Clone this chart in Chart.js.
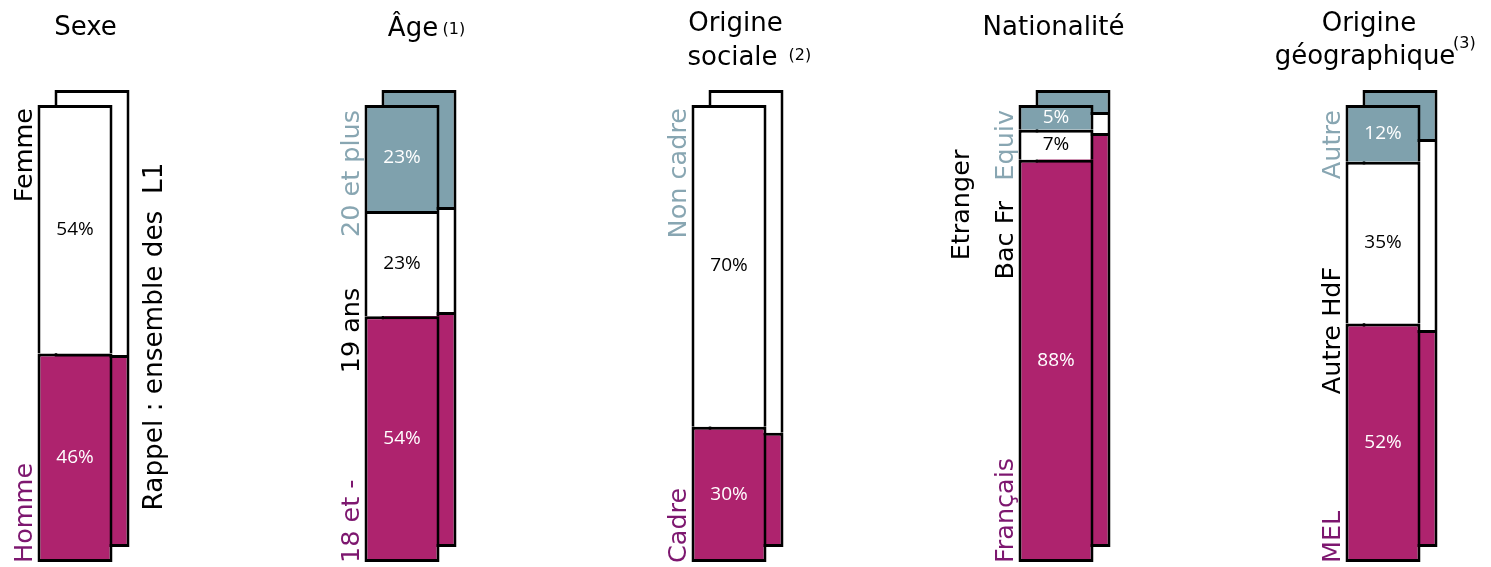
<!DOCTYPE html>
<html><head><meta charset="utf-8">
<script src="https://cdn.jsdelivr.net/npm/chart.js@4.4.0/dist/chart.umd.min.js"></script>
<style>
html,body{margin:0;padding:0;background:#fff;}
#wrap{position:relative;width:1491px;height:567px;overflow:hidden;background:#fff;}
canvas{position:absolute;left:0;top:0;}
</style></head><body>
<div id="wrap"><canvas id="back" width="1491" height="567"></canvas><canvas id="front" width="1491" height="567"></canvas></div>
<script>
// ---- data ----
const categories = ['Sexe', 'Âge', 'Origine sociale', 'Nationalité', 'Origine géographique'];
// front bars (groupe étudié), bottom -> top
const frontBottom = [45.6, 53.8, 29.6, 88.0, 52.2];
const frontMiddle = [54.4, 23.0, 70.4, 6.6, 35.4];
const frontTop    = [0,    23.2, 0,    5.4,  12.4];
// back bars (rappel : ensemble des L1)
const rappelBottom = [42.0, 51.4, 25.0, 90.6, 47.5];
const rappelMiddle = [58.0, 23.0, 75.0, 4.6,  41.8];
const rappelTop    = [0,    25.6, 0,    4.8,  10.7];
// segment labels
const bottomLabels = ['Homme', '18 et -', 'Cadre', 'Français', 'MEL'];
const middleLabels = ['Femme', '19 ans', 'Non cadre', 'Bac Fr', 'Autre HdF'];
const topLabels    = ['', '20 et plus', '', 'Equiv', 'Autre'];
const titleMain = ['Sexe', 'Âge', 'Origine', 'Nationalité', 'Origine'];
const titleSecond = ['', '', 'sociale', '', 'géographique'];
const titleNotes = ['', '(1)', '(2)', '', '(3)'];
const rappelText = 'Rappel : ensemble des  L1';
const etrangerText = 'Etranger';

// ---- styles ----
const MAGENTA = '#ae236e', GRAY = '#7fa1ad';
const C_PURPLE = '#7d176f', C_GRAYTXT = '#88a6b2';
const FONT = '"DejaVu Sans", sans-serif';
const middleAnchor = ['end', 'mid', 'end', 'nat', 'mid'];
const middleColor = ['#000', '#000', C_GRAYTXT, '#000', '#000'];
const titleLayout = [
  {main: {dx: 10.5, y: 35}},
  {main: {dx: 11, y: 36}, note: {dx: 40.5, y: 34}},
  {main: {dx: 6.5, y: 31}, second: {dx: 3.5, y: 65}, note: {dx: 59.5, y: 60}},
  {main: {dx: -2.5, y: 35}},
  {main: {dx: -14, y: 31}, second: {dx: -18, y: 64}, note: {dx: 70, y: 48}}
];

function hText(ctx, text, x, y, align, font, color) {
  ctx.save();
  ctx.font = font; ctx.fillStyle = color; ctx.textAlign = align; ctx.textBaseline = 'alphabetic';
  ctx.fillText(text, x, y); ctx.restore();
}
function rText(ctx, text, x, y, align, color, size) {
  ctx.save(); ctx.translate(x, y); ctx.rotate(-Math.PI / 2);
  ctx.font = (size || 25.5) + 'px ' + FONT; ctx.fillStyle = color; ctx.textAlign = align; ctx.textBaseline = 'alphabetic';
  ctx.fillText(text, 0, 0); ctx.restore();
}

const valueLabels = {
  id: 'valueLabels',
  afterDatasetsDraw(chart) {
    const ctx = chart.ctx; const colors = ['#fff', '#000', '#fff'];
    chart.data.datasets.forEach((ds, d) => {
      chart.getDatasetMeta(d).data.forEach((el, i) => {
        const v = ds.data[i]; if (!v) return;
        ctx.save(); ctx.font = '19px "Open Sans", sans-serif'; ctx.fillStyle = colors[d];
        ctx.textAlign = 'center'; ctx.textBaseline = 'middle';
        ctx.fillText(Math.round(v) + '%', el.x, (el.y + el.base) / 2);
        ctx.restore();
      });
    });
  }
};

const catLabels = {
  id: 'catLabels',
  afterDraw(chart) {
    const ctx = chart.ctx;
    const m0 = chart.getDatasetMeta(0).data, m2 = chart.getDatasetMeta(2).data;
    categories.forEach((c, i) => {
      const b = m0[i]; const left = b.x - b.width / 2, right = b.x + b.width / 2;
      const bottom = b.base, top = m2[i].y, mid = (top + bottom) / 2;
      const lx = left - 6;
      rText(ctx, bottomLabels[i], lx, bottom + 1, 'left', C_PURPLE);
      const a = middleAnchor[i];
      if (a === 'end') rText(ctx, middleLabels[i], lx, top + 3, 'right', middleColor[i]);
      else if (a === 'mid') rText(ctx, middleLabels[i], lx, mid - 3, 'center', middleColor[i]);
      else if (a === 'nat') {
        rText(ctx, middleLabels[i], lx, top + 96, 'right', middleColor[i]);
        rText(ctx, etrangerText, left - 50, top + 100, 'center', '#000');
      }
      if (topLabels[i]) rText(ctx, topLabels[i], lx, top + 5, 'right', C_GRAYTXT);
      if (i === 0) rText(ctx, rappelText, right + 49, mid + 3, 'center', '#000', 26.3);
      // titles
      const L = titleLayout[i];
      hText(ctx, titleMain[i], b.x + L.main.dx, L.main.y, 'center', '26px ' + FONT, '#000');
      if (L.second) hText(ctx, titleSecond[i], b.x + L.second.dx, L.second.y, 'center', '26px ' + FONT, '#000');
      if (L.note) hText(ctx, titleNotes[i], b.x + L.note.dx, L.note.y, 'left', '16px ' + FONT, '#000');
    });
  }
};

function makeChart(id, bottom, middle, top, pad, plugins) {
  const common = {borderColor: '#000', borderWidth: 3, barThickness: 75, clip: false, inflateAmount: 0};
  return new Chart(document.getElementById(id), {
    type: 'bar',
    data: {labels: categories, datasets: [
      Object.assign({data: bottom, backgroundColor: MAGENTA, borderSkipped: false}, common),
      Object.assign({data: middle, backgroundColor: '#fff', borderSkipped: 'start'}, common),
      Object.assign({data: top, backgroundColor: GRAY, borderSkipped: 'start'}, common)
    ]},
    options: {
      responsive: false, animation: false, devicePixelRatio: 1,
      layout: {padding: pad},
      scales: {
        x: {display: false, stacked: true, offset: false},
        y: {display: false, stacked: true, min: 0, max: 100}
      },
      plugins: {legend: {display: false}, tooltip: {enabled: false}}
    },
    plugins: plugins
  });
}

makeChart('back', rappelBottom, rappelMiddle, rappelTop, {left: 92, right: 91, top: 90, bottom: 20}, []);
makeChart('front', frontBottom, frontMiddle, frontTop, {left: 75, right: 108, top: 105, bottom: 5}, [valueLabels, catLabels]);
</script>
</body></html>
